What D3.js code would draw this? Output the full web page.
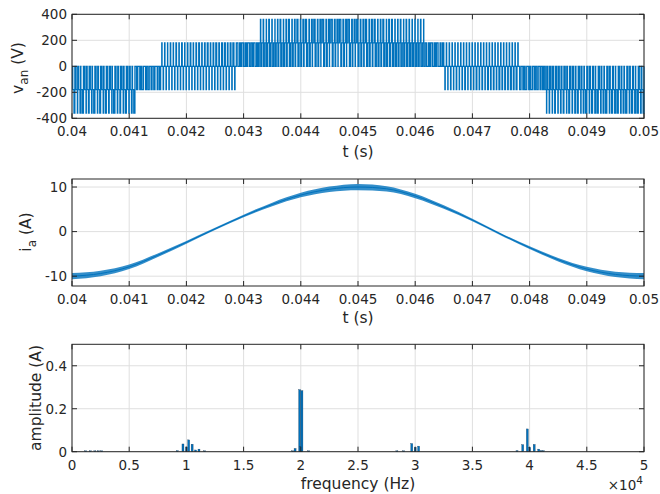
<!DOCTYPE html>
<html><head><meta charset="utf-8">
<script src="https://cdn.jsdelivr.net/npm/d3@7"></script>
<style>
body{margin:0;background:#fff}
text{font-family:"DejaVu Sans",sans-serif;fill:#262626;font-size:13.5px}
text.lab{font-size:15.5px}
</style>
</head><body>
<svg id="c" width="660" height="494"></svg>
<script>
// ---------- tick data ----------
const tTicks = [0.04,0.041,0.042,0.043,0.044,0.045,0.046,0.047,0.048,0.049,0.05];
const tTickLabels = ["0.04","0.041","0.042","0.043","0.044","0.045","0.046","0.047","0.048","0.049","0.05"];
const vTicks = [-400,-200,0,200,400];
const vTickLabels = ["-400","-200","0","200","400"];
const iTicks = [-10,0,10];
const iTickLabels = ["-10","0","10"];
const fTicks = [0,5000,10000,15000,20000,25000,30000,35000,40000,45000,50000];
const fTickLabels = ["0","0.5","1","1.5","2","2.5","3","3.5","4","4.5","5"];
const aTicks = [0,0.2,0.4];
const aTickLabels = ["0","0.2","0.4"];

// ---------- phase voltage v_an (PWM) ----------
const vSwitchPeriod = 50e-6;           // one switching period (s)
const vSegEdges  = [0.04,0.0411,0.04155,0.04285,0.04325,0.04615,0.0465,0.0478,0.04825,0.05];
const vSegSecond = [-180,0,-180,0,180,0,180,0,-180];     // intermediate level (V)
const vSegQ      = [0.45,0,0.12,0,0.45,0,0.12,0,0.45];     // fraction of period at intermediate level
const vSegPulse  = [-360,-180,180,180,360,180,-180,-180,-360]; // level of the main pulse (V)
// fraction of each switching period spent at the pulse level
const vPulseFrac = [
  0.30,0.12,0.20,0.45,0.10,0.25,0.15,0.40,0.12,0.30,0.10,0.35,0.20,0.10,0.45,0.15,0.25,0.10,0.35,0.12,0.20,0.40,
  0.45,0.30,0.55,0.25,0.50,0.35,0.40,0.20,0.45,
  0.10,0.12,0.08,0.15,0.10,0.18,0.12,0.20,0.10,0.15,0.22,0.12,0.18,0.25,0.15,0.20,0.28,0.15,0.22,0.30,0.18,0.25,0.32,0.20,0.28,0.35,
  0.55,0.40,0.60,0.45,0.65,0.50,0.60,0.45,
  0.10,0.15,0.08,0.20,0.12,0.06, 0.15,0.25,0.10,0.18,0.30,0.12, 0.20,0.35,0.15,0.25,0.40,0.15,
  0.25,0.45,0.20,0.30,0.50,0.20, 0.30,0.50,0.25,0.35,0.50,0.25, 0.30,0.50,0.20,0.35,0.45,0.20,
  0.25,0.40,0.15,0.30,0.35,0.15, 0.20,0.30,0.10,0.25,0.25,0.12, 0.15,0.20,0.08,0.18,0.15,0.10,
  0.12,0.08,0.15,0.06,
  0.50,0.35,0.60,0.40,0.55,0.30,0.45,
  0.12,0.08,0.15,0.10,0.18,0.10,0.14,0.22,0.10,0.18,0.12,0.25,0.15,0.20,0.12,0.28,0.18,0.22,0.15,0.30,0.20,0.26,0.18,0.32,0.24,0.30,
  0.50,0.35,0.55,0.30,0.60,0.40,0.50,0.35,0.45,
  0.08,0.15,0.10,0.22,0.12,0.18,0.25,0.10,0.30,0.15,0.20,0.35,0.12,0.25,0.40,0.15,0.30,0.20,0.45,0.15,0.30,0.40,0.12,0.35,0.25,0.45,0.18,0.30,0.40,0.15,0.35,0.25,0.45,0.20,0.30
];

// ---------- phase current i_a ----------
const iTime   = [0.04,0.0405,0.041,0.0415,0.042,0.0425,0.043,0.0435,0.044,0.0445,0.045,0.0455,0.046,0.0465,0.047,0.0475,0.048,0.0485,0.049,0.0495,0.05];
const iValue  = [-10.0,-9.4,-7.9,-5.3,-2.4,0.6,3.5,6.1,8.2,9.5,10.0,9.6,8.0,5.5,2.6,-0.6,-3.6,-6.3,-8.4,-9.6,-10.0];
const iRipple = [0.7,0.6,0.5,0.4,0.3,0.25,0.3,0.4,0.5,0.6,0.7,0.6,0.5,0.4,0.3,0.25,0.3,0.4,0.5,0.6,0.7];

// ---------- current spectrum ----------
const fftFreq = [1200,1600,2000,2300,2600,9200,9700,10000,10200,10500,10800,11100,11600,
                 19300,19500,19900,20000,20100,20700,28400,29000,29700,30000,30300,
                 38900,39400,39800,40000,40400,40800,41000,41200];
const fftAmp  = [0.004,0.004,0.004,0.004,0.004,0.005,0.036,0.022,0.055,0.035,0.008,0.012,0.004,
                 0.004,0.015,0.289,0.025,0.284,0.004,0.004,0.004,0.038,0.020,0.026,
                 0.005,0.033,0.106,0.020,0.034,0.012,0.005,0.005];

// ---------- drawing ----------
const svg = d3.select("#c");
const X0 = 72, X1 = 644;
const BLUE = "#0072BD", INK = "#262626", GRID = "#dfdfdf";

function panel(top, bottom, x, y, xt, xl, yt, yl) {
  const g = svg.append("g");
  g.selectAll(".gx").data(xt).join("line")
    .attr("x1", d => x(d)).attr("x2", d => x(d)).attr("y1", top).attr("y2", bottom)
    .attr("stroke", GRID).attr("stroke-width", 1);
  g.selectAll(".gy").data(yt).join("line")
    .attr("y1", d => y(d)).attr("y2", d => y(d)).attr("x1", X0).attr("x2", X1)
    .attr("stroke", GRID).attr("stroke-width", 1);
  const plot = svg.append("g");
  const fg = svg.append("g");
  fg.append("rect").attr("x", X0).attr("y", top).attr("width", X1 - X0).attr("height", bottom - top)
    .attr("fill", "none").attr("stroke", INK).attr("stroke-width", 1);
  const tl = 5;
  xt.forEach(d => {
    fg.append("line").attr("x1", x(d)).attr("x2", x(d)).attr("y1", bottom).attr("y2", bottom - tl).attr("stroke", INK);
    fg.append("line").attr("x1", x(d)).attr("x2", x(d)).attr("y1", top).attr("y2", top + tl).attr("stroke", INK);
  });
  yt.forEach(d => {
    fg.append("line").attr("y1", y(d)).attr("y2", y(d)).attr("x1", X0).attr("x2", X0 + tl).attr("stroke", INK);
    fg.append("line").attr("y1", y(d)).attr("y2", y(d)).attr("x1", X1).attr("x2", X1 - tl).attr("stroke", INK);
  });
  xt.forEach((d, i) => {
    fg.append("text").attr("x", x(d)).attr("y", bottom + 18).attr("text-anchor", "middle").text(xl[i]);
  });
  yt.forEach((d, i) => {
    fg.append("text").attr("x", X0 - 5).attr("y", y(d) + 4.8).attr("text-anchor", "end").text(yl[i]);
  });
  return plot;
}

// ----- top: v_an -----
const xT1 = d3.scaleLinear().domain([0.04, 0.05]).range([X0, X1]);
const yV = d3.scaleLinear().domain([-400, 400]).range([118.3, 14.3]);
const p1 = panel(14.3, 118.3, xT1, yV, tTicks, tTickLabels, vTicks, vTickLabels);

const vPts = [];
vPulseFrac.forEach((p, k) => {
  const t0 = 0.04 + k * vSwitchPeriod;
  const tm = t0 + vSwitchPeriod / 2;
  let s = d3.bisectRight(vSegEdges, tm) - 1;
  s = Math.max(0, Math.min(vSegPulse.length - 1, s));
  const q = vSegQ[s], sec = vSegSecond[s], pul = vSegPulse[s];
  const T = vSwitchPeriod;
  if (sec === 0 || Math.sign(sec) === Math.sign(pul)) {
    vPts.push([t0, 0]);
    vPts.push([t0 + (1 - p - q) * T, sec]);
    vPts.push([t0 + (1 - p) * T, pul]);
  } else {
    const r = (1 - p - q) / 2;
    vPts.push([t0, 0]);
    vPts.push([t0 + r * T, pul]);
    vPts.push([t0 + (r + p) * T, 0]);
    vPts.push([t0 + (2 * r + p) * T, sec]);
  }
});
vPts.push([0.05, 0]);
p1.append("path").datum(vPts)
  .attr("d", d3.line().x(d => xT1(d[0])).y(d => yV(d[1])).curve(d3.curveStepAfter))
  .attr("fill", "none").attr("stroke", BLUE).attr("stroke-width", 1.3);

svg.append("text").attr("class", "lab").attr("x", xT1(0.045)).attr("y", 157).attr("text-anchor", "middle").text("t (s)");
svg.append("text").attr("class", "lab").attr("transform", "translate(23,68) rotate(-90)").attr("text-anchor", "middle")
  .call(t => {
    t.append("tspan").text("v");
    t.append("tspan").attr("dy", 5).attr("font-size", "12px").text("an");
    t.append("tspan").attr("dy", -5).text(" (V)");
  });

// ----- middle: i_a -----
const yI = d3.scaleLinear().domain([-12.2, 11.8]).range([286, 179]);
const p2 = panel(179, 286, xT1, yI, tTicks, tTickLabels, iTicks, iTickLabels);
const iData = iTime.map((t, k) => ({t, v: iValue[k], r: iRipple[k]}));
p2.append("path").datum(iData)
  .attr("d", d3.area().x(d => xT1(d.t)).y0(d => yI(d.v - d.r)).y1(d => yI(d.v + d.r)).curve(d3.curveMonotoneX))
  .attr("fill", BLUE).attr("fill-opacity", 0.8);
p2.append("path").datum(iData)
  .attr("d", d3.line().x(d => xT1(d.t)).y(d => yI(d.v)).curve(d3.curveMonotoneX))
  .attr("fill", "none").attr("stroke", BLUE).attr("stroke-width", 1);

svg.append("text").attr("class", "lab").attr("x", xT1(0.045)).attr("y", 323).attr("text-anchor", "middle").text("t (s)");
svg.append("text").attr("class", "lab").attr("transform", "translate(31,232) rotate(-90)").attr("text-anchor", "middle")
  .call(t => {
    t.append("tspan").text("i");
    t.append("tspan").attr("dy", 5).attr("font-size", "12px").text("a");
    t.append("tspan").attr("dy", -5).text(" (A)");
  });

// ----- bottom: spectrum -----
const xF = d3.scaleLinear().domain([0, 50000]).range([X0, X1]);
const yA = d3.scaleLinear().domain([0, 0.5]).range([451.7, 344.3]);
const p3 = panel(344.3, 451.7, xF, yA, fTicks, fTickLabels, aTicks, aTickLabels);
p3.selectAll("rect").data(fftFreq).join("rect")
  .attr("x", (d) => xF(d) - 1).attr("width", 2)
  .attr("y", (d, i) => yA(fftAmp[i])).attr("height", (d, i) => yA(0) - yA(fftAmp[i]))
  .attr("fill", BLUE).attr("stroke", "#1b3550").attr("stroke-width", 0.3);

svg.append("text").attr("class", "lab").attr("x", xF(25000)).attr("y", 489).attr("text-anchor", "middle").text("frequency (Hz)");
svg.append("text").attr("class", "lab").attr("transform", "translate(36,398) rotate(-90)").attr("text-anchor", "middle").attr("dy", 5).text("amplitude (A)");
svg.append("text").attr("x", 643).attr("y", 490).attr("text-anchor", "end")
  .call(t => {
    t.append("tspan").text("×10");
    t.append("tspan").attr("dy", -6).attr("font-size", "10.5px").text("4");
  });
</script>
</body></html>
